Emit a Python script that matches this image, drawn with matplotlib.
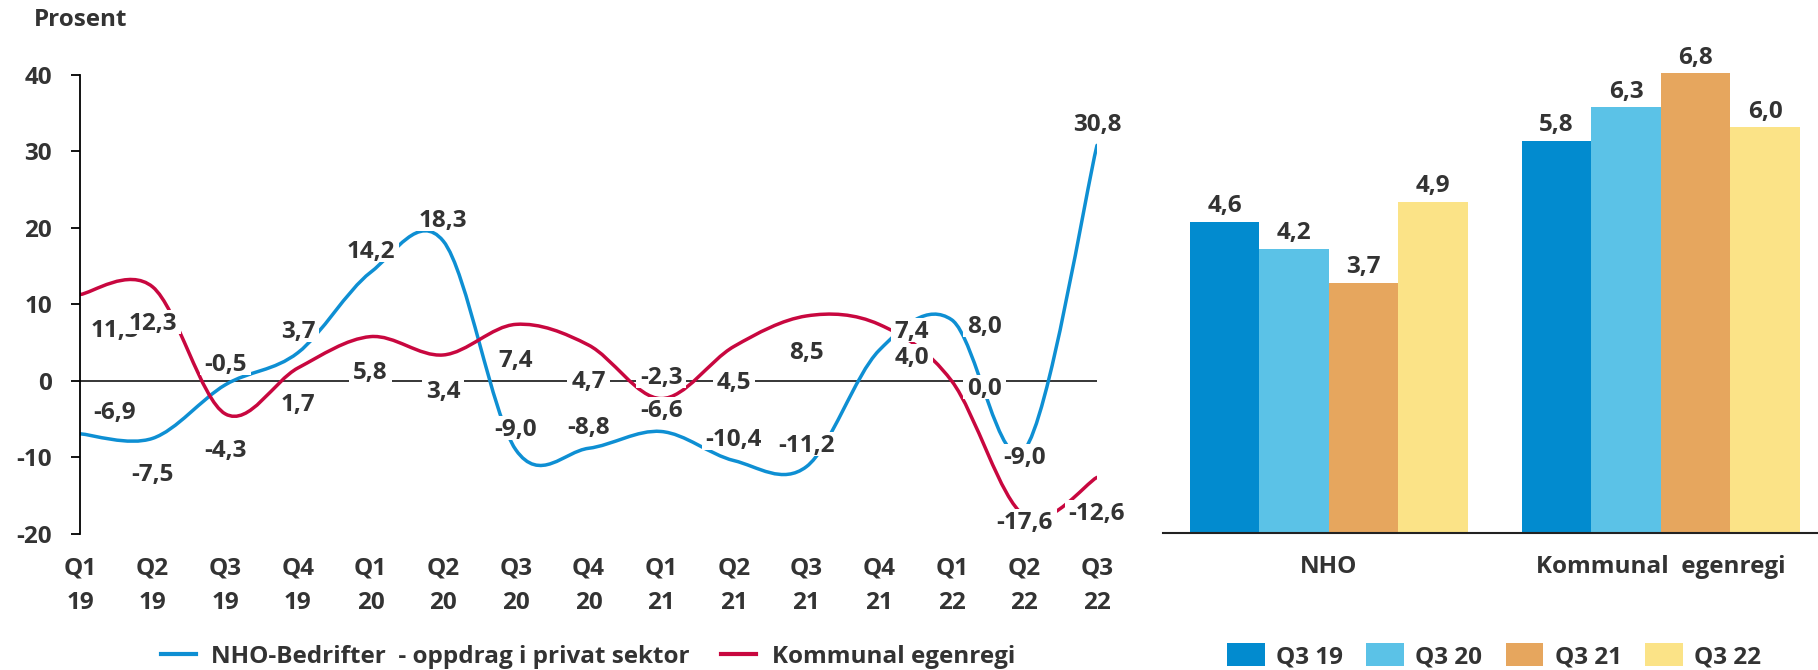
import matplotlib
matplotlib.use("Agg")
import matplotlib.pyplot as plt
from matplotlib.path import Path
from matplotlib.patches import PathPatch, Rectangle
from matplotlib.lines import Line2D
from matplotlib.transforms import IdentityTransform
import numpy as np

plt.rcParams["font.family"] = ["Open Sans", "DejaVu Sans"]
plt.rcParams["font.weight"] = "bold"
plt.rcParams["axes.unicode_minus"] = False

# --- data -------------------------------------------------------------
quarters = ["Q1\n19", "Q2\n19", "Q3\n19", "Q4\n19", "Q1\n20", "Q2\n20", "Q3\n20", "Q4\n20",
            "Q1\n21", "Q2\n21", "Q3\n21", "Q4\n21", "Q1\n22", "Q2\n22", "Q3\n22"]
nho = [-6.9, -7.5, -0.5, 3.7, 14.2, 18.3, -9.0, -8.8, -6.6, -10.4, -11.2, 4.0, 8.0, -9.0, 30.8]
kommunal = [11.3, 12.3, -4.3, 1.7, 5.8, 3.4, 7.4, 4.7, -2.3, 4.5, 8.5, 7.4, 0.0, -17.6, -12.6]

# label placement: a=above, b=below, r=right, c=centre, "+" = nudged right
nho_pos = ["a+", "b", "a", "a", "a", "a", "a", "a", "a", "a", "a", "r", "r", "c", "a"]
kom_pos = ["b+", "b", "b", "b", "b", "b", "b", "b", "a", "b", "b", "r", "r", "c", "b"]

groups = ["NHO", "Kommunal  egenregi"]
bar_series = ["Q3 19", "Q3 20", "Q3 21", "Q3 22"]
bar_values = {
    "Q3 19": [4.6, 5.8],
    "Q3 20": [4.2, 6.3],
    "Q3 21": [3.7, 6.8],
    "Q3 22": [4.9, 6.0],
}

BLUE = "#0E8FD3"
RED = "#C8073F"
TXT = "#333333"
bar_colors = ["#028BCF", "#5BC2E7", "#E6A65E", "#FBE387"]
FS = 17.5
PX = 0.72  # points per pixel at dpi 100


def fmt(v):
    return f"{v:.1f}".replace(".", ",")


def smooth_path(ys):
    # Catmull-Rom style bezier, like Excel's smoothed lines
    n = len(ys)
    pts = [(float(i), float(y)) for i, y in enumerate(ys)]
    verts = [pts[0]]
    codes = [Path.MOVETO]
    for i in range(n - 1):
        p0 = pts[i - 1] if i > 0 else pts[i]
        p1 = pts[i]
        p2 = pts[i + 1]
        p3 = pts[i + 2] if i + 2 < n else pts[i + 1]
        c1 = (p1[0] + (p2[0] - p0[0]) / 6, p1[1] + (p2[1] - p0[1]) / 6)
        c2 = (p2[0] - (p3[0] - p1[0]) / 6, p2[1] - (p3[1] - p1[1]) / 6)
        verts += [c1, c2, p2]
        codes += [Path.CURVE4] * 3
    return Path(verts, codes)


offsets = {"a": (0, 23), "b": (0, -34), "r": (33, -5), "c": (0, -5)}

fig = plt.figure(figsize=(18.18, 6.70), dpi=100)

# --- left: line chart -------------------------------------------------
ax = fig.add_axes([0.0440, 0.2030, 0.5594, 0.6851])
x = np.arange(len(quarters))
ax.set_xlim(0, len(quarters) - 1)
ax.set_ylim(-20, 40)
ax.set_yticks(range(-20, 41, 10))
ax.set_xticks(x)
ax.set_xticklabels(quarters, linespacing=1.62)
for s in ["top", "right", "bottom"]:
    ax.spines[s].set_visible(False)
ax.spines["left"].set_linewidth(1.3)
ax.spines["left"].set_color("black")
ax.tick_params(axis="y", length=6.5, width=1.3, pad=13.5, labelsize=FS, labelcolor=TXT)
ax.tick_params(axis="x", length=0, pad=16, labelsize=FS, labelcolor=TXT)
ax.axhline(0, color="black", lw=1.1, zorder=1)

labels = []
z = 4
for ys, col, pos in [(nho, BLUE, nho_pos), (kommunal, RED, kom_pos)]:
    ax.add_patch(PathPatch(smooth_path(ys), fill=False, ec=col, lw=2.5, zorder=2,
                           capstyle="round"))
    for i, (v, p) in enumerate(zip(ys, pos)):
        dx, dy = offsets[p[0]]
        if p.endswith("+"):
            dx += 35
        t = ax.annotate(fmt(v), (i, v), xytext=(dx * PX, (dy - 8.7) * PX),
                        textcoords="offset points", ha="center", va="baseline",
                        fontsize=FS, color=TXT, zorder=z + 0.5, annotation_clip=False)
        labels.append(t)
        z += 1

fig.text(33.7 / 1818, 1 - 20.5 / 670, "Prosent", ha="left", va="center",
         fontsize=FS, color=TXT)

handles = [Line2D([], [], color=BLUE, lw=3),
           Line2D([], [], color=RED, lw=3)]
fig.legend(handles, ["NHO-Bedrifter  - oppdrag i privat sektor", "Kommunal egenregi"],
           loc="center", bbox_to_anchor=(588 / 1818, 1 - 657 / 670), ncol=2,
           frameon=False, fontsize=FS, handlelength=1.44, handletextpad=0.62,
           columnspacing=1.3, labelcolor=TXT)

# --- right: bar chart -------------------------------------------------
bx = fig.add_axes([0.6396, 0.2051, 0.3604, 0.7864])
gx = np.arange(len(groups))
w = 0.2094
for k, (name, col) in enumerate(zip(bar_series, bar_colors)):
    vals = bar_values[name]
    bars = bx.bar(gx + (k - 1.5) * w, vals, width=w, color=col, label=name, zorder=2)
    for b, v in zip(bars, vals):
        bx.annotate(fmt(v), (b.get_x() + b.get_width() / 2, v), xytext=(0, 9.5 * PX),
                    textcoords="offset points", ha="center", va="baseline",
                    fontsize=FS, color=TXT)
bx.set_xlim(-0.5, 1.473)
bx.set_ylim(0, 7.8)
bx.set_yticks([])
bx.set_xticks(gx)
bx.set_xticklabels(groups)
for s in ["top", "right", "left"]:
    bx.spines[s].set_visible(False)
bx.spines["bottom"].set_linewidth(1.5)
bx.spines["bottom"].set_color("#222222")
bx.tick_params(axis="x", length=0, pad=16, labelsize=FS, labelcolor=TXT)

fig.legend(loc="center", bbox_to_anchor=(1494 / 1818, 1 - 656 / 670), ncol=4,
           frameon=False, fontsize=FS, handlelength=1.56, handleheight=1.11,
           handletextpad=0.47, columnspacing=0.95, labelcolor=TXT)

# white boxes behind the line labels, tight under the digits (like Excel)
fig.canvas.draw()
renderer = fig.canvas.get_renderer()
for t in labels:
    bb = t.get_window_extent(renderer)
    ax.add_patch(Rectangle((bb.x0 - 4, bb.y0 + 2), bb.width + 8, bb.height,
                           transform=IdentityTransform(), fc="white", ec="none",
                           zorder=t.get_zorder() - 0.25, clip_on=False))

fig.savefig("out.png", dpi=100)
